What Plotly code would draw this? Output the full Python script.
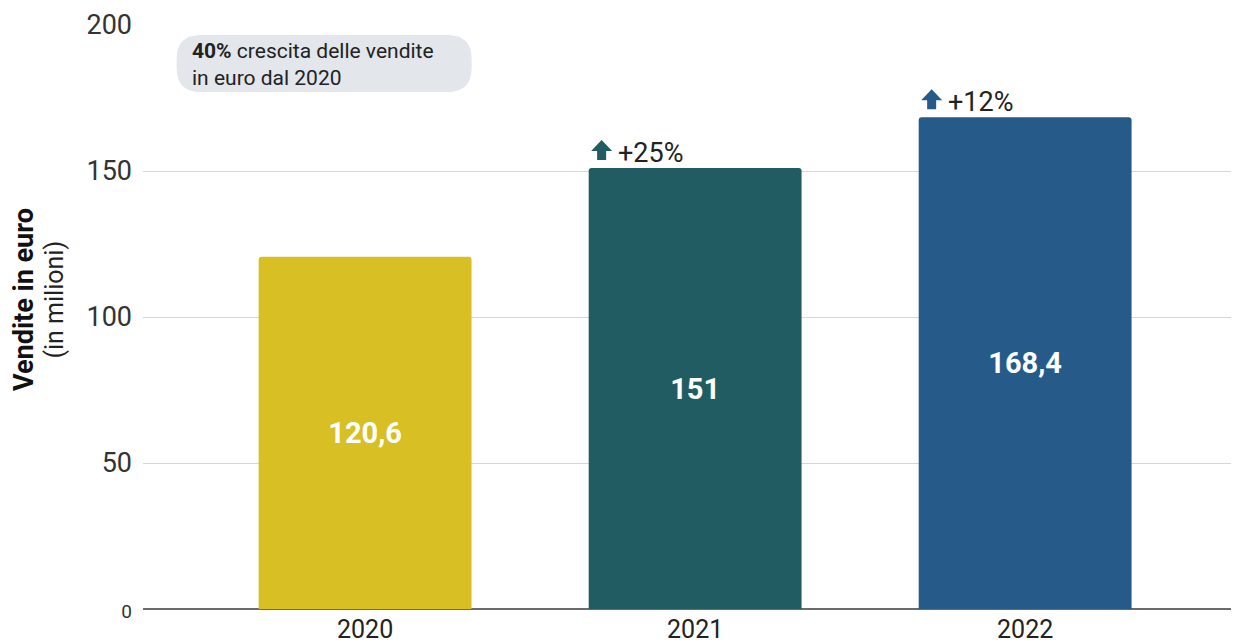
import plotly.graph_objects as go

years = ["2020", "2021", "2022"]
sales = [120.6, 151, 168.4]
growth = [None, "+25%", "+12%"]
bar_colors = ["#d7bf24", "#215c63", "#265a89"]
y_ticks = [0, 50, 100, 150, 200]
y_ticktext = ["<span style='font-size:19px'>0</span>", "50", "100", "150", "200"]

FONT = "Roboto"
labels = [f"{v:g}".replace(".", ",") for v in sales]

fig = go.Figure()
fig.add_trace(go.Bar(
    x=years, y=sales,
    marker=dict(color=bar_colors, cornerradius=3, line=dict(width=0)),
    text=labels, textposition="inside", insidetextanchor="middle",
    textfont=dict(family=FONT, size=29, color="white", weight="bold"),
    hoverinfo="skip", width=0.645,
))

shapes = []
annotations = []
for i, (yr, v, g) in enumerate(zip(years, sales, growth)):
    if g is None:
        continue
    # up arrow icon, pixel-sized, anchored at bar top
    shapes.append(dict(
        type="path", xref="x", yref="y", xsizemode="pixel", ysizemode="pixel",
        xanchor=i, yanchor=v,
        path="M -93.5,28 L -83,17 L -89,17 L -89,8 L -98,8 L -98,17 L -104,17 Z",
        fillcolor=bar_colors[i], line=dict(width=0),
    ))
    annotations.append(dict(
        x=i, y=v, xref="x", yref="y", text=g, showarrow=False,
        xanchor="left", yanchor="middle", xshift=-79, yshift=15,
        font=dict(family=FONT, size=27, color="#222222"),
    ))

# rounded callout box
r = 24
L, R, T, B = -188.5, 106.5, -10, -67
box_path = (f"M {L+r},{T} L {R-r},{T} Q {R},{T} {R},{T-r} L {R},{B+r} Q {R},{B} {R-r},{B} "
            f"L {L+r},{B} Q {L},{B} {L},{B+r} L {L},{T-r} Q {L},{T} {L+r},{T} Z")
shapes.append(dict(
    type="path", xref="x", yref="y", xsizemode="pixel", ysizemode="pixel",
    xanchor=0, yanchor=200, path=box_path,
    fillcolor="#e3e6ea", line=dict(width=0), layer="below",
))
annotations.append(dict(
    x=0, y=200, xref="x", yref="y", showarrow=False,
    text="<b>40%</b> crescita delle vendite<br>in euro dal 2020",
    xanchor="left", yanchor="top", align="left", xshift=-175, yshift=-12,
    font=dict(family=FONT, size=21, color="#222222"),
))

# y-axis title
annotations.append(dict(
    x=0, y=0.529, xref="paper", yref="paper", showarrow=False,
    text="<b>Vendite in euro</b>", textangle=-90, xshift=-137,
    font=dict(family=FONT, size=27, color="#111111"),
))
annotations.append(dict(
    x=0, y=0.529, xref="paper", yref="paper", showarrow=False,
    text="(in milioni)", textangle=-90, xshift=-105,
    font=dict(family=FONT, size=25, color="#222222"),
))

fig.update_layout(
    width=1239, height=644,
    margin=dict(l=135, r=8, t=17, b=43),
    paper_bgcolor="white", plot_bgcolor="white",
    showlegend=False,
    shapes=shapes, annotations=annotations,
    font=dict(family=FONT, color="#333333"),
    xaxis=dict(
        type="category", range=[-0.673, 2.648], automargin=False,
        showgrid=False, showline=False, ticks="", ticklabelstandoff=3,
        tickfont=dict(family=FONT, size=25, color="#222222"),
    ),
    yaxis=dict(
        range=[0, 200], tickmode="array", tickvals=y_ticks, ticktext=y_ticktext,
        automargin=False,
        showgrid=True, gridcolor="#d6d6d6", gridwidth=1,
        zeroline=True, zerolinecolor="#6b6b6b", zerolinewidth=2,
        showline=False, ticks="", ticklabelstandoff=10,
        tickfont=dict(family=FONT, size=27, color="#333333"),
    ),
)

fig.write_html("out.html")
